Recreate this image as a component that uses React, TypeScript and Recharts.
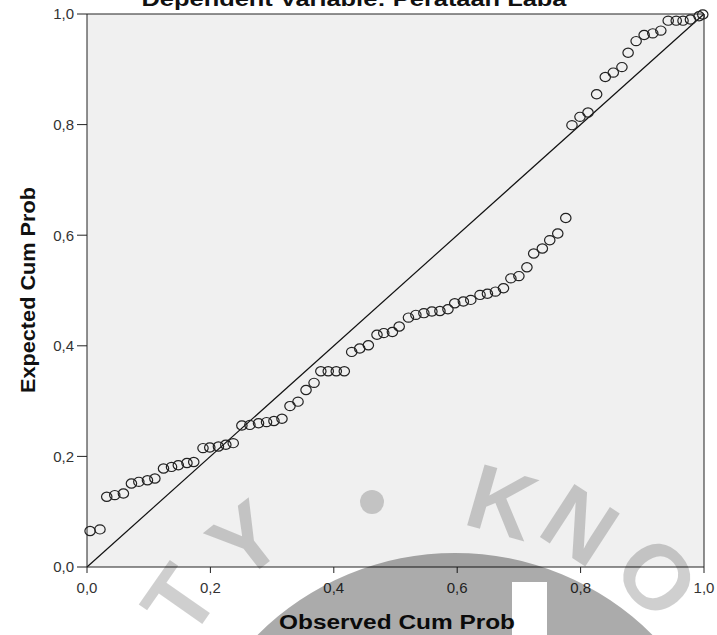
import React from 'react';
import {
  CartesianGrid,
  Label,
  ReferenceLine,
  Scatter,
  ScatterChart,
  XAxis,
  YAxis,
} from 'recharts';

// P-P plot of regression standardized residuals
const observedCumProb = [
  0.005, 0.021, 0.032, 0.045, 0.059, 0.072, 0.084, 0.098, 0.11, 0.124,
  0.137, 0.148, 0.162, 0.173, 0.188, 0.199, 0.213, 0.225, 0.237, 0.251,
  0.264, 0.278, 0.291, 0.303, 0.316, 0.329, 0.342, 0.355, 0.368, 0.379,
  0.391, 0.404, 0.417, 0.429, 0.442, 0.456, 0.47, 0.481, 0.495, 0.506,
  0.521, 0.533, 0.546, 0.559, 0.572, 0.585, 0.596, 0.61, 0.622, 0.637,
  0.649, 0.662, 0.675, 0.687, 0.7, 0.713, 0.724, 0.738, 0.75, 0.763,
  0.776, 0.786, 0.799, 0.812, 0.826, 0.84, 0.853, 0.867, 0.877, 0.89,
  0.903, 0.917, 0.93, 0.942, 0.955, 0.966, 0.978, 0.992, 0.998,
];

const expectedCumProb = [
  0.065, 0.068, 0.127, 0.13, 0.133, 0.151, 0.154, 0.157, 0.16, 0.178,
  0.181, 0.184, 0.188, 0.19, 0.215, 0.216, 0.218, 0.221, 0.224, 0.256,
  0.257, 0.26, 0.262, 0.264, 0.268, 0.291, 0.299, 0.32, 0.333, 0.354,
  0.354, 0.354, 0.354, 0.389, 0.395, 0.401, 0.42, 0.423, 0.425, 0.435,
  0.451, 0.456, 0.459, 0.462, 0.463, 0.466, 0.477, 0.48, 0.483, 0.492,
  0.494, 0.498, 0.504, 0.522, 0.526, 0.542, 0.567, 0.576, 0.591, 0.603,
  0.631, 0.799, 0.814, 0.822, 0.855, 0.886, 0.894, 0.904, 0.93, 0.951,
  0.962, 0.965, 0.97, 0.988, 0.988, 0.988, 0.99, 0.996, 0.999,
];

const axisTicks = [0, 0.2, 0.4, 0.6, 0.8, 1];

const points = observedCumProb.map((x, i) => ({ x, y: expectedCumProb[i] }));

const FONT = '"Liberation Sans", Arial, sans-serif';
const fmt = (v: number) => v.toFixed(1).replace('.', ',');

const Ring = (props: any) => (
  <ellipse
    cx={props.cx}
    cy={props.cy}
    rx={5.2}
    ry={4.6}
    fill='none'
    stroke='#222'
    strokeWidth={1.2}
  />
);

// faint university watermark lying over the picture
function Watermark() {
  const letter = (ch: string, x: number, y: number, rot: number) => (
    <text
      x={x}
      y={y}
      textAnchor='middle'
      dominantBaseline='central'
      fontFamily={FONT}
      fontWeight='bold'
      fontSize={92}
      transform={`rotate(${rot} ${x} ${y})`}
    >
      {ch}
    </text>
  );
  const cx = 455;
  const cy = 832;
  const r = 279;
  const disc =
    `M ${cx - r} ${cy} a ${r} ${r} 0 1 0 ${2 * r} 0 a ${r} ${r} 0 1 0 ${-2 * r} 0 Z ` +
    'M 512 582 L 547 582 L 547 640 L 512 640 Z';
  return (
    <svg
      width={717}
      height={635}
      style={{ position: 'absolute', left: 0, top: 0, pointerEvents: 'none' }}
    >
      <path d={disc} fill='#000' fillOpacity={0.33} fillRule='evenodd' />
      <g fill='#000' fillOpacity={0.19}>
        {letter('T', 180, 600, -55)}
        {letter('Y', 245, 540, -38)}
        <circle cx={372} cy={502} r={12} />
        {letter('K', 502, 502, 16)}
        {letter('N', 580, 525, 33)}
        {letter('O', 657, 577, 50)}
      </g>
    </svg>
  );
}

export default function App() {
  return (
    <div
      style={{
        position: 'absolute',
        left: 0,
        top: 0,
        width: 717,
        height: 635,
        background: '#fff',
      }}
    >
      <ScatterChart
        width={717}
        height={635}
        margin={{ top: 14, right: 13, bottom: 0, left: 0 }}
      >
        <CartesianGrid fill='#f0f0f0' stroke='none' />
        <text
          x={354}
          y={6}
          textAnchor='middle'
          fontFamily={FONT}
          fontWeight='bold'
          fontSize={20}
          textLength={425}
          lengthAdjust='spacingAndGlyphs'
          fill='#111'
        >
          Dependent Variable: Perataan Laba
        </text>
        <XAxis
          type='number'
          dataKey='x'
          domain={[0, 1]}
          ticks={axisTicks}
          tickFormatter={fmt}
          height={68}
          tickSize={6}
          tickMargin={9}
          stroke='#222'
          tick={{ fill: '#333', fontSize: 15, fontFamily: FONT }}
        >
          <Label
            content={() => (
              <text
                x={397}
                y={629}
                textAnchor='middle'
                fontFamily={FONT}
                fontWeight='bold'
                fontSize={20}
                textLength={236}
                lengthAdjust='spacingAndGlyphs'
                fill='#111'
              >
                Observed Cum Prob
              </text>
            )}
          />
        </XAxis>
        <YAxis
          type='number'
          dataKey='y'
          domain={[0, 1]}
          ticks={axisTicks}
          tickFormatter={fmt}
          width={87}
          tickSize={10}
          tickMargin={3}
          stroke='#222'
          tick={{ fill: '#333', fontSize: 15, fontFamily: FONT }}
        >
          <Label
            content={() => (
              <text
                x={35}
                y={290}
                textAnchor='middle'
                fontFamily={FONT}
                fontWeight='bold'
                fontSize={20}
                textLength={206}
                lengthAdjust='spacingAndGlyphs'
                transform='rotate(-90 35 290)'
                fill='#111'
              >
                Expected Cum Prob
              </text>
            )}
          />
        </YAxis>
        <ReferenceLine y={1} stroke='#222' />
        <ReferenceLine x={1} stroke='#222' />
        <ReferenceLine
          segment={[
            { x: 0, y: 0 },
            { x: 1, y: 1 },
          ]}
          stroke='#111'
          strokeWidth={1.2}
        />
        <Scatter data={points} shape={Ring} isAnimationActive={false} />
      </ScatterChart>
      <Watermark />
    </div>
  );
}
